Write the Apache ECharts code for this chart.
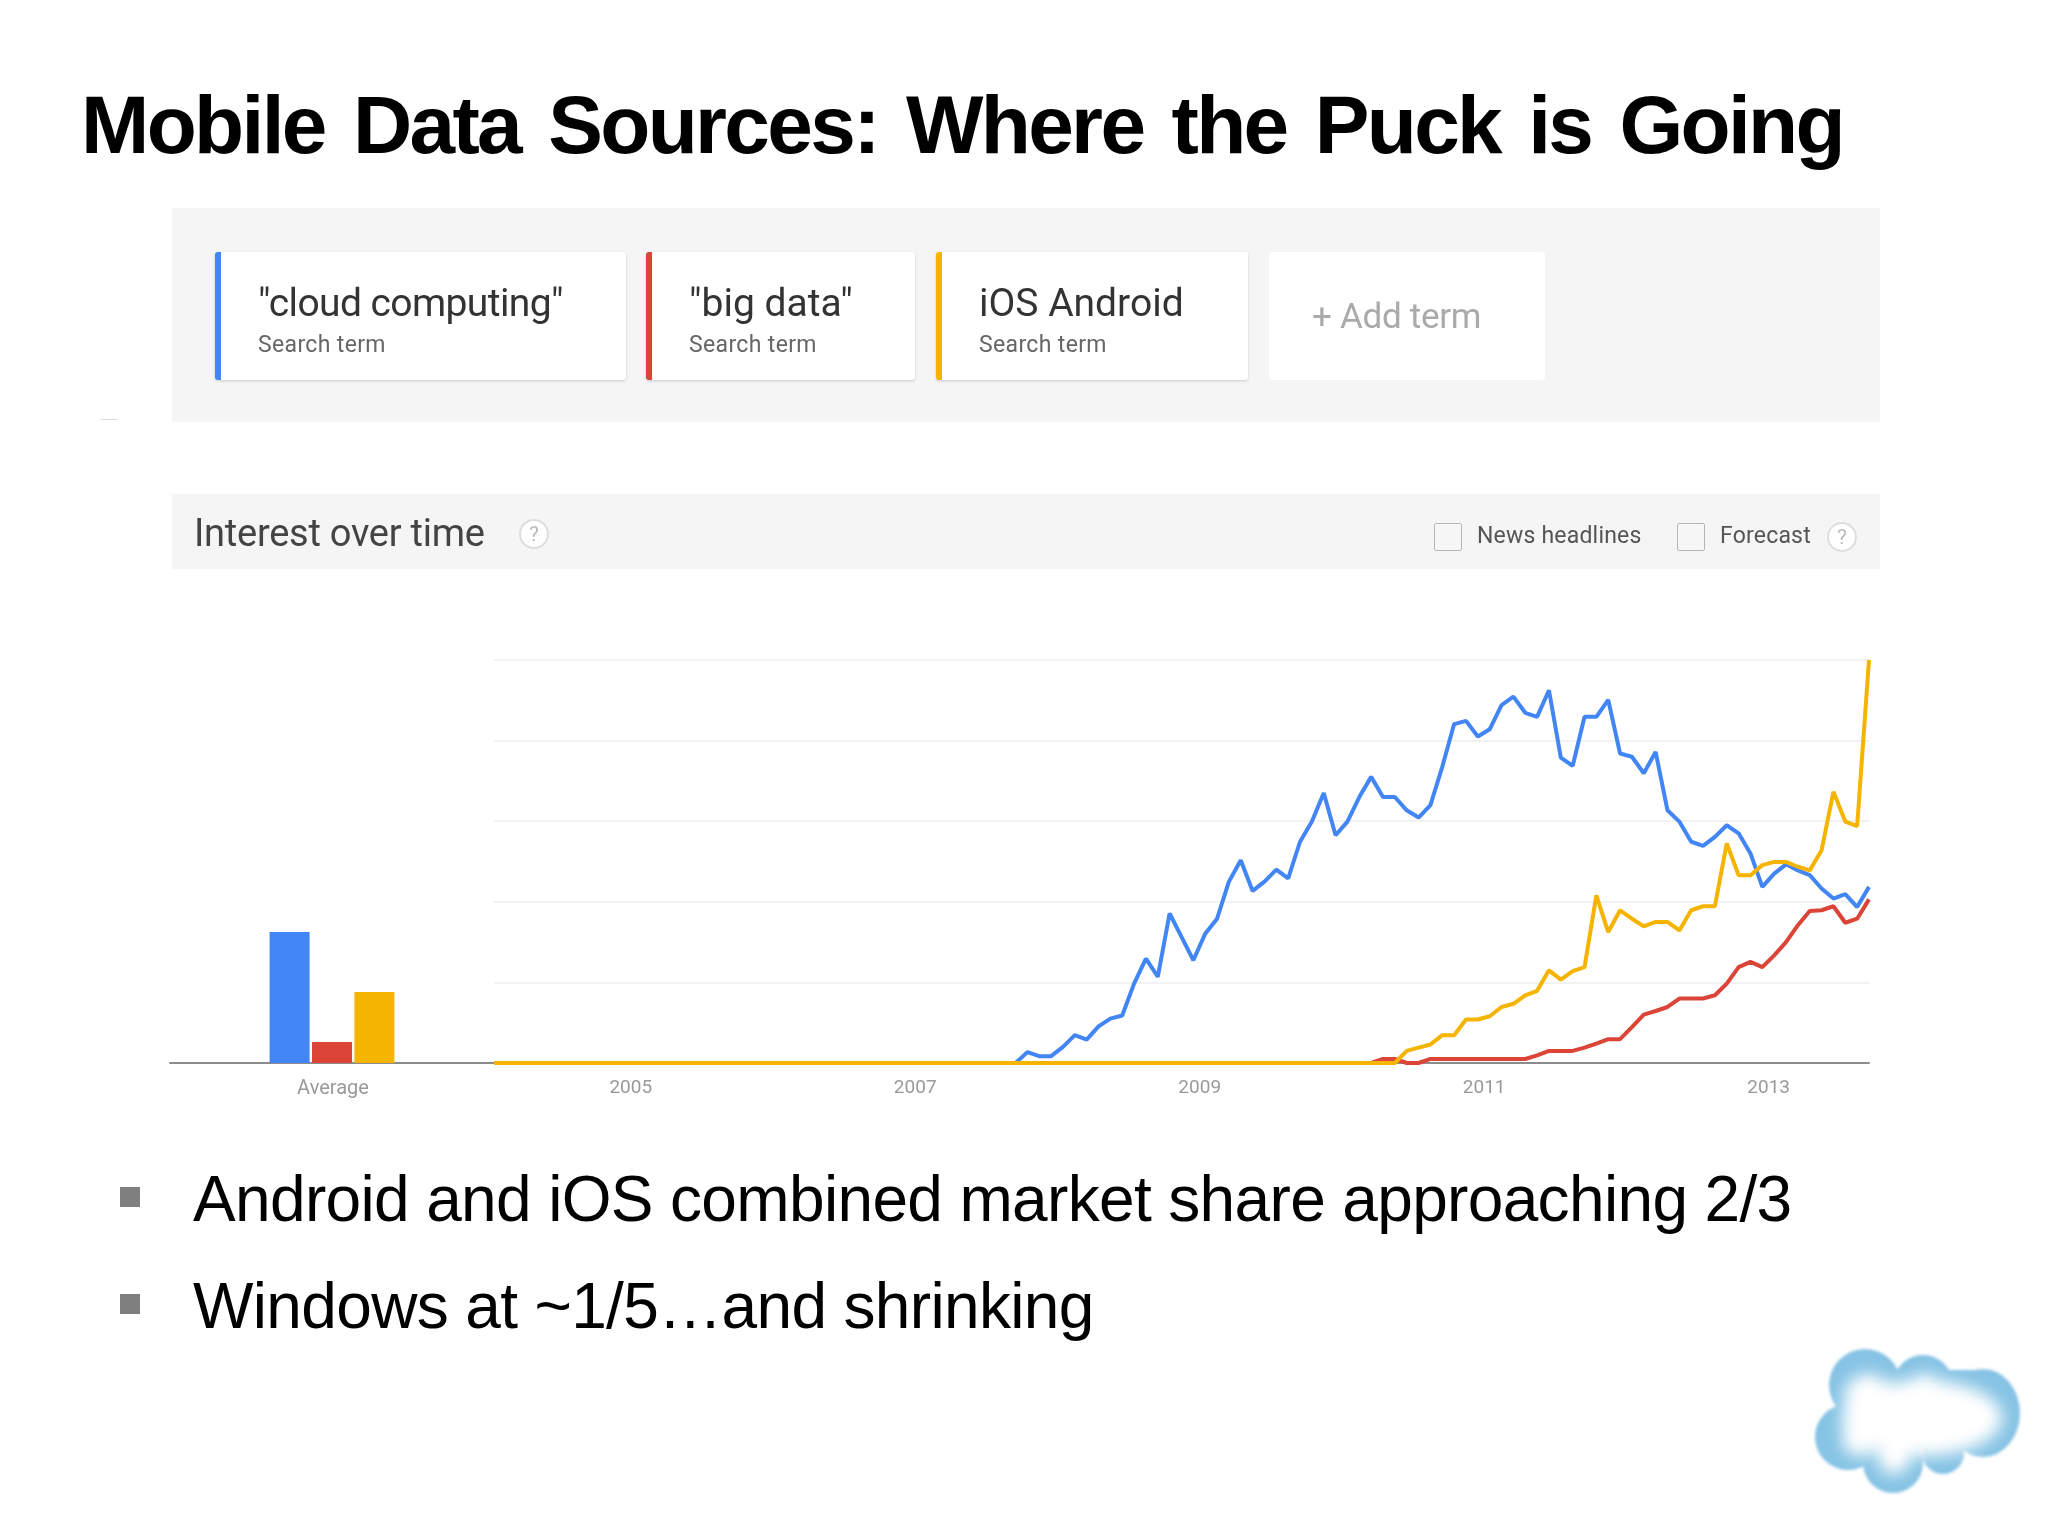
<!DOCTYPE html>
<html lang="en">
<head>
<meta charset="UTF-8">
<title>Mobile Data Sources</title>
<script src="https://cdnjs.cloudflare.com/ajax/libs/echarts/6.0.0/echarts.min.js"></script>
<style>
  html, body { margin: 0; padding: 0; background: #fff; }
  #slide { position: relative; width: 2048px; height: 1536px; overflow: hidden; font-family: "Liberation Sans", Arial, sans-serif; }
  #slide > div, #slide > svg { position: absolute; }
  #chart { left: 0; top: 0; width: 2048px; height: 1536px; }
  .title { left: 81px; top: 76px; font-size: 82px; line-height: 98px; font-weight: bold; color: #000; white-space: nowrap; letter-spacing: -2.65px; word-spacing: 8px; }
  .panel { left: 172px; width: 1708px; background: #f5f5f5; }
  .chip { top: 252px; height: 128px; background: #fff; box-sizing: border-box; border-radius: 3px; box-shadow: 0 1px 3px rgba(0,0,0,.18); }
  .term { top: 280px; font-size: 39px; line-height: 46px; color: #333; white-space: nowrap; font-family: Roboto, sans-serif; }
  .sub { top: 331px; font-size: 23px; line-height: 28px; color: #666; white-space: nowrap; font-family: Roboto, sans-serif; letter-spacing: .35px; }
  .box { width: 26px; height: 26px; top: 523px; border: 1px solid #b5b5b5; background: #f7f7f7; border-radius: 2px; }
  .small { top: 522px; font-size: 23px; line-height: 28px; color: #555; white-space: nowrap; font-family: Roboto, sans-serif; letter-spacing: .2px; }
  .help { width: 30px; height: 30px; box-sizing: border-box; border: 2px solid #ddd; border-radius: 50%; background: #fff; color: #bbb; text-align: center; font-size: 21px; line-height: 26px; font-family: Roboto, sans-serif; }
  .bullet { left: 120px; width: 20px; height: 20px; background: #7f7f7f; }
  .line { left: 193px; font-size: 64px; line-height: 74px; color: #000; white-space: nowrap; letter-spacing: -.65px; }
</style>
</head>
<body>
<div id="slide">
  <div class="panel" style="top:208px;height:214px"></div>
  <div class="panel" style="top:494px;height:75px"></div>
  <div id="chart"></div>

  <div class="title">Mobile Data Sources: Where the Puck is Going</div>
  <div style="left:100px;top:419px;width:18px;height:1px;background:#ddd"></div>

  <!-- search terms -->
  <div class="chip" style="left:215px;width:411px;border-left:6px solid #4285f4"></div>
  <div class="term" style="left:258px;letter-spacing:-.6px">"cloud computing"</div>
  <div class="sub" style="left:258px">Search term</div>
  <div class="chip" style="left:646px;width:269px;border-left:6px solid #db4437"></div>
  <div class="term" style="left:689px">"big data"</div>
  <div class="sub" style="left:689px">Search term</div>
  <div class="chip" style="left:936px;width:312px;border-left:6px solid #f4b400"></div>
  <div class="term" style="left:979px">iOS Android</div>
  <div class="sub" style="left:979px">Search term</div>
  <div class="chip" style="left:1269px;width:276px;box-shadow:none"></div>
  <div class="term" style="left:1312px;top:294px;font-size:35px;color:#aaa;letter-spacing:-.3px">+ Add term</div>

  <!-- header of the chart -->
  <div class="term" style="left:194px;top:510px;font-size:38px;color:#444;letter-spacing:-.25px">Interest over time</div>
  <div class="help" style="left:519px;top:519px">?</div>
  <div class="box" style="left:1434px"></div>
  <div class="small" style="left:1477px">News headlines</div>
  <div class="box" style="left:1677px"></div>
  <div class="small" style="left:1720px">Forecast</div>
  <div class="help" style="left:1827px;top:522px">?</div>

  <!-- bullets -->
  <div class="bullet" style="top:1187px"></div>
  <div class="line" style="top:1162px">Android and iOS combined market share approaching 2/3</div>
  <div class="bullet" style="top:1294px"></div>
  <div class="line" style="top:1269px">Windows at ~1/5…and shrinking</div>

  <!-- logo -->
  <svg style="left:1780px;top:1330px" width="268" height="206" viewBox="0 0 268 206">
    <defs>
      <filter id="soft" x="-10%" y="-10%" width="120%" height="120%"><feGaussianBlur stdDeviation="1.5"/></filter>
      <filter id="core" x="-30%" y="-30%" width="160%" height="160%"><feGaussianBlur stdDeviation="8"/></filter>
    </defs>
    <g fill="#86c3e4" filter="url(#soft)">
      <circle cx="85" cy="55" r="36"/>
      <circle cx="143" cy="55" r="30"/>
      <ellipse cx="203" cy="83" rx="37" ry="44"/>
      <circle cx="68" cy="107" r="33"/>
      <circle cx="113" cy="133" r="30"/>
      <circle cx="163" cy="123" r="21"/>
      <rect x="75" y="40" width="130" height="80"/>
    </g>
    <g fill="#fff" filter="url(#core)">
      <ellipse cx="142" cy="88" rx="80" ry="38"/>
      <circle cx="88" cy="68" r="24"/>
      <circle cx="145" cy="62" r="18"/>
      <circle cx="80" cy="108" r="18"/>
      <circle cx="114" cy="128" r="16"/>
    </g>
  </svg>
</div>

<script>
// monthly, Jan 2004 to Sep 2013
var months = [];
for (var y = 2004; y <= 2013; y++) {
  for (var m = 1; m <= 12; m++) {
    if (y === 2013 && m > 9) break;
    months.push(y + '-' + (m < 10 ? '0' + m : m));
  }
}
var yearTicks = ['2005-01', '2007-01', '2009-01', '2011-01', '2013-01'];

var cloudComputing = [
  0,0,0,0,0,0,0,0,0,0,0,0,
  0,0,0,0,0,0,0,0,0,0,0,0,
  0,0,0,0,0,0,0,0,0,0,0,0,
  0,0,0,0,0,0,0,0,0,2.7,1.7,1.7,
  4,6.9,5.8,9.1,11,11.8,19.7,25.9,21.4,37.1,31.3,25.5,
  32.1,35.8,45,50.3,42.7,45,48,45.8,54.9,59.9,67,56.5,
  59.9,66,71,66,66,62.7,60.9,64,73.5,84.1,84.9,81,
  82.8,88.8,90.9,86.9,85.9,92.5,75.8,73.7,85.9,85.9,90.1,76.8,
  76,71.9,77.2,62.7,59.9,54.9,53.9,56.1,59,57,52,43.7,
  47,49.3,47.8,46.6,43.3,40.8,41.9,38.7,43.7
];
var bigData = [
  0,0,0,0,0,0,0,0,0,0,0,0,
  0,0,0,0,0,0,0,0,0,0,0,0,
  0,0,0,0,0,0,0,0,0,0,0,0,
  0,0,0,0,0,0,0,0,0,0,0,0,
  0,0,0,0,0,0,0,0,0,0,0,0,
  0,0,0,0,0,0,0,0,0,0,0,0,
  0,0,0,1,1,0,0,1,1,1,1,1,
  1,1,1,1,1.9,3,3,3,3.8,4.8,5.9,5.9,
  8.9,12,12.9,13.9,16,16,16,16.8,19.7,23.8,25.1,23.8,
  26.7,30,34.2,37.7,37.9,38.9,34.8,35.8,40.6
];
var iosAndroid = [
  0,0,0,0,0,0,0,0,0,0,0,0,
  0,0,0,0,0,0,0,0,0,0,0,0,
  0,0,0,0,0,0,0,0,0,0,0,0,
  0,0,0,0,0,0,0,0,0,0,0,0,
  0,0,0,0,0,0,0,0,0,0,0,0,
  0,0,0,0,0,0,0,0,0,0,0,0,
  0,0,0,0,0,3,3.8,4.6,6.9,6.9,10.8,10.8,
  11.6,13.9,14.7,16.8,17.9,23,20.7,22.8,23.8,41.6,32.5,37.9,
  35.8,33.9,35,35,32.9,37.9,38.9,38.9,54.5,46.6,46.6,49.1,
  49.9,49.9,48.7,47.8,52.8,67.3,59.9,58.8,100
];
var averageLabel = ['Average'];
var averageCloud = [32.5];
var averageBig = [5.2];
var averageIos = [17.6];

var blue = '#4285f4', red = '#db4437', yellow = '#f4b400';

function lineSeries(name, values, color) {
  return {
    name: name, type: 'line', xAxisIndex: 1, yAxisIndex: 1, data: values,
    showSymbol: false, smooth: false, lineStyle: { color: color, width: 4 }, itemStyle: { color: color }
  };
}
function barSeries(name, values, color) {
  return {
    name: name, type: 'bar', xAxisIndex: 0, yAxisIndex: 0, data: values,
    barWidth: 40, barGap: '6%', itemStyle: { color: color }
  };
}

var chart = echarts.init(document.getElementById('chart'));
chart.setOption({
  animation: false,
  grid: [
    { left: 170, right: 1554, top: 660, height: 403 },
    { left: 494, right: 179, top: 660, height: 403 }
  ],
  xAxis: [
    {
      type: 'category', gridIndex: 0, data: averageLabel,
      axisLine: { lineStyle: { color: '#8c8c8c', width: 2 } }, axisTick: { show: false },
      axisLabel: { color: '#999', fontSize: 20, margin: 16, fontFamily: 'Roboto', padding: [0, 0, 0, 2] }
    },
    {
      type: 'category', gridIndex: 1, data: months, boundaryGap: false,
      axisLine: { lineStyle: { color: '#8c8c8c', width: 2 } }, axisTick: { show: false },
      axisLabel: {
        color: '#999', fontSize: 19, margin: 16, fontFamily: 'Roboto', padding: [0, 11, 0, 0],
        interval: function (i, v) { return yearTicks.indexOf(v) >= 0; },
        formatter: function (v) { return v.slice(0, 4); }
      }
    }
  ],
  yAxis: [
    { type: 'value', gridIndex: 0, min: 0, max: 100, show: false },
    {
      type: 'value', gridIndex: 1, min: 0, max: 100, interval: 20,
      axisLine: { show: false }, axisTick: { show: false }, axisLabel: { show: false },
      splitLine: { lineStyle: { color: '#eeeeee', width: 1.5 } }
    }
  ],
  series: [
    barSeries('"cloud computing"', averageCloud, blue),
    barSeries('"big data"', averageBig, red),
    barSeries('iOS Android', averageIos, yellow),
    lineSeries('"cloud computing"', cloudComputing, blue),
    lineSeries('"big data"', bigData, red),
    lineSeries('iOS Android', iosAndroid, yellow)
  ]
});
</script>
</body>
</html>
